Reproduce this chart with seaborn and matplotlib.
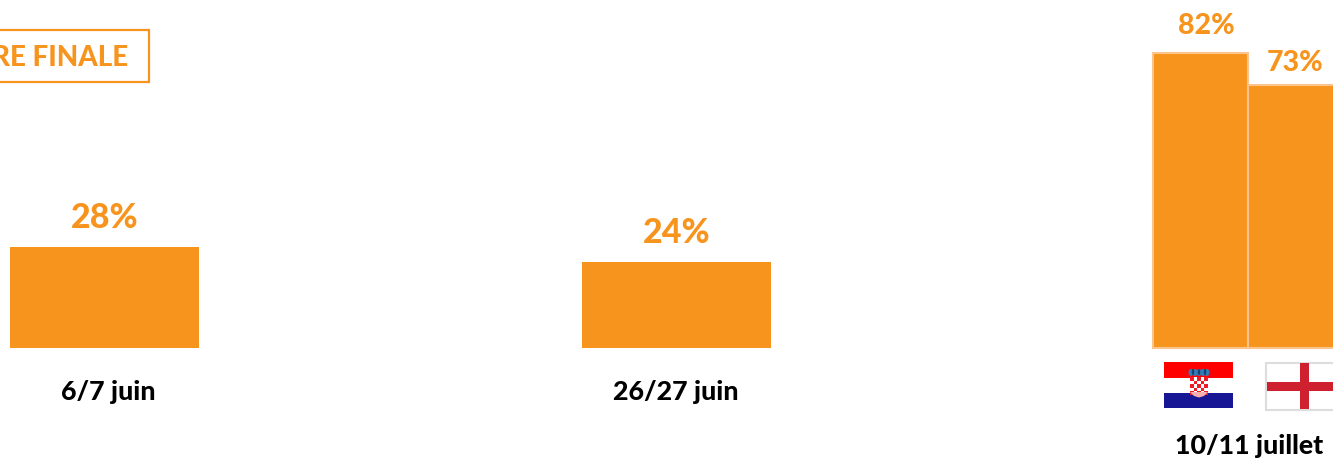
import pandas as pd
import matplotlib
matplotlib.use("Agg")
import matplotlib.pyplot as plt
from matplotlib.patches import Rectangle, Polygon, Ellipse
import seaborn as sns

# values
wide_periods = ["6/7 juin", "26/27 juin"]
wide_values = [28, 24]
team_names = ["Croatie", "Angleterre"]
team_values = [82, 73]
team_period = "10/11 juillet"
badge_text = "RE FINALE"

# layout in reference pixels
W, H = 1333, 459
BASE_Y = 348
PX_PER_POINT = 3.6
WIDE_X = [104.5, 676.5]
WIDE_W = 189
TEAM_X = [1200.5, 1295]
LABEL_DX = [0, 0, 6, 0]
LABEL_DY = [32, 32, 29, 25]
LABEL_SIZE = [24.5, 24.5, 20.5, 20.5]
ORANGE = "#F7941E"
EDGE = "#FBC48C"

sns.set_theme(style="white")
plt.rcParams["font.family"] = ["Lato", "DejaVu Sans"]

fig = plt.figure(figsize=(W / 100, H / 100), dpi=100)
ax = fig.add_axes([0, 0, 1, 1])

wide_df = pd.DataFrame({"x": WIDE_X, "value": wide_values})
team_df = pd.DataFrame({"x": TEAM_X, "value": team_values})

sns.barplot(data=wide_df, x="x", y="value", native_scale=True, ax=ax,
            color=ORANGE, saturation=1, width=WIDE_W / (WIDE_X[1] - WIDE_X[0]),
            linewidth=0)
sns.barplot(data=team_df, x="x", y="value", native_scale=True, ax=ax,
            color=ORANGE, saturation=1, width=1,
            edgecolor=EDGE, linewidth=1.5)

ax.set_xlim(0, W)
ax.set_ylim(-(H - BASE_Y) / PX_PER_POINT, BASE_Y / PX_PER_POINT)
ax.axis("off")

# value labels sit just above the bars
for x, v, dx, dy, fs in zip(WIDE_X + TEAM_X, wide_values + team_values,
                            LABEL_DX, LABEL_DY, LABEL_SIZE):
    ax.annotate(f"{v}%", (x, v), xytext=(dx, dy), textcoords="offset pixels",
                ha="center", va="center_baseline", color=ORANGE, fontsize=fs,
                fontweight=900, annotation_clip=False)

# overlay in pixel coordinates for texts, badge and flags
ov = fig.add_axes([0, 0, 1, 1], facecolor="none")
ov.set_xlim(0, W)
ov.set_ylim(H, 0)
ov.axis("off")

for x, t in zip([108.5, 675.5], wide_periods):
    ov.text(x, 392, t, ha="center", va="center", fontsize=19.3,
            fontweight=900, color="black")
ov.text(1249, 446, team_period, ha="center", va="center", fontsize=19.3,
        fontweight=900, color="black")

# badge, cut by the left border
ov.add_patch(Rectangle((-20, 30), 169, 52, fc="white", ec=ORANGE, lw=1.6))
ov.text(128, 58, badge_text, ha="right", va="center", fontsize=20,
        fontweight=900, color=ORANGE)

# Croatian flag
ov.add_patch(Rectangle((1164, 362), 69, 16, fc="#FF0000", lw=0))
ov.add_patch(Rectangle((1164, 378), 69, 15, fc="white", lw=0))
ov.add_patch(Rectangle((1164, 393), 69, 15, fc="#171796", lw=0))
for i in range(5):
    for j in range(5):
        color = "#EE1C25" if (i + j) % 2 == 0 else "white"
        ov.add_patch(Rectangle((1190 + i * 3.6, 377 + j * 3.6), 3.6, 3.6, fc=color, lw=0))
ov.add_patch(Polygon([(1190, 392), (1208, 392), (1204, 396), (1199, 397.5), (1194, 396)],
                     fc="#F7B0B0", lw=0))
for cx in [1191, 1195, 1199, 1203, 1207]:
    ov.add_patch(Ellipse((cx, 372.5), 5, 7, fc="#2E7FB8", lw=0))
for cx in [1193, 1199, 1205]:
    ov.add_patch(Ellipse((cx, 372), 2.5, 6, fc="#1A3E78", lw=0))

# English flag, cut by the right border
ov.add_patch(Rectangle((1265.5, 362.5), 80, 47, fc="white", ec="#DDDDDD", lw=1.5))
ov.add_patch(Rectangle((1266.5, 381.5), 80, 9, fc="#CF2030", lw=0))
ov.add_patch(Rectangle((1299.5, 363), 9, 46, fc="#CF2030", lw=0))

fig.savefig("out.png", dpi=100)
